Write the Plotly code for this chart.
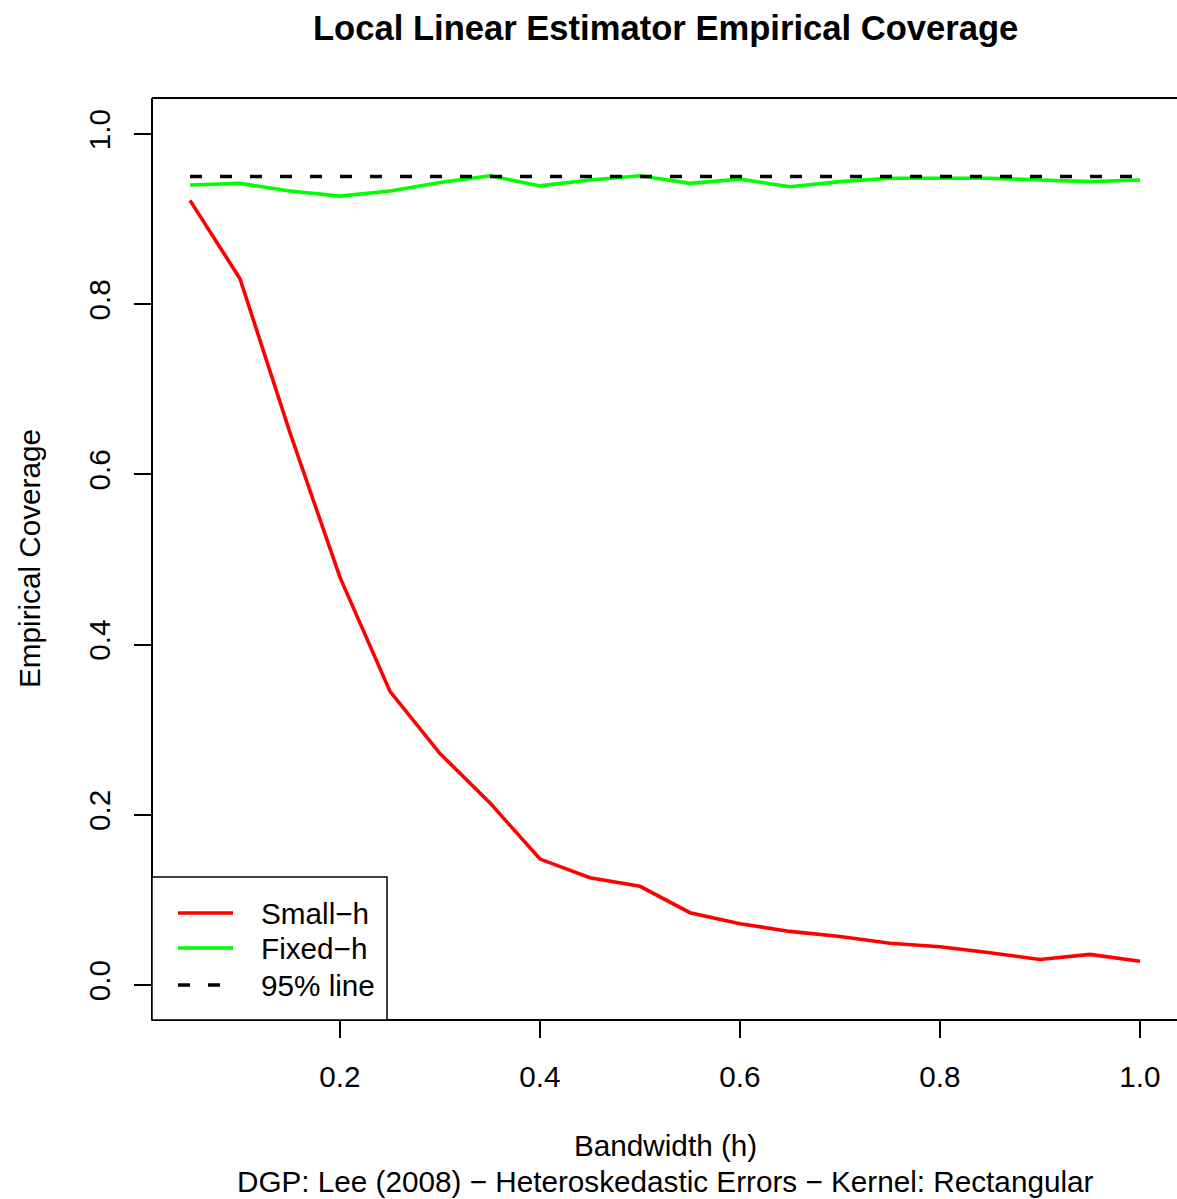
import plotly.graph_objects as go

# ---- data ----
bandwidth = [0.05, 0.10, 0.15, 0.20, 0.25, 0.30, 0.35, 0.40, 0.45, 0.50,
             0.55, 0.60, 0.65, 0.70, 0.75, 0.80, 0.85, 0.90, 0.95, 1.00]
small_h = [0.922, 0.830, 0.649, 0.479, 0.345, 0.272, 0.214, 0.148, 0.126, 0.116,
           0.085, 0.072, 0.063, 0.057, 0.049, 0.045, 0.038, 0.030, 0.036, 0.028]
fixed_h = [0.940, 0.942, 0.933, 0.927, 0.933, 0.943, 0.951, 0.939, 0.946, 0.951,
           0.942, 0.947, 0.938, 0.944, 0.948, 0.948, 0.948, 0.946, 0.944, 0.946]
nominal_x = [0.05, 1.00]
nominal_y = [0.95, 0.95]

x_ticks = [0.2, 0.4, 0.6, 0.8, 1.0]
x_tick_labels = ["0.2", "0.4", "0.6", "0.8", "1.0"]
y_ticks = [0.0, 0.2, 0.4, 0.6, 0.8, 1.0]
y_tick_labels = ["0.0", "0.2", "0.4", "0.6", "0.8", "1.0"]

series_names = ["Small\u2212h", "Fixed\u2212h", "95% line"]
title_text = "Local Linear Estimator Empirical Coverage"
x_title = "Bandwidth (h)"
sub_title = "DGP: Lee (2008) \u2212 Heteroskedastic Errors \u2212 Kernel: Rectangular"
y_title = "Empirical Coverage"

# ---- layout geometry (body margin removed by post_script) ----
W, H = 1177, 1199
PLOT_L, PLOT_T, PLOT_B = 152, 98, 1020
L, T, R = PLOT_L, PLOT_T, 0
B = H - PLOT_B
PW = W - L - R
PH = H - T - B
FONT = "Liberation Sans, Arial, Helvetica, sans-serif"
FS = 29.7
LW = 3.6
DASH = "12px,18px"


def px(xp):
    """page x pixel -> paper coordinate"""
    return (xp - PLOT_L) / PW


def py(yp):
    """page y pixel -> paper coordinate"""
    return (PLOT_B - yp) / PH


fig = go.Figure()
fig.add_trace(go.Scatter(x=bandwidth, y=small_h, mode="lines", name=series_names[0],
                         line=dict(color="#FF0000", width=LW), showlegend=False))
fig.add_trace(go.Scatter(x=bandwidth, y=fixed_h, mode="lines", name=series_names[1],
                         line=dict(color="#00FF00", width=LW), showlegend=False))
fig.add_trace(go.Scatter(x=nominal_x, y=nominal_y, mode="lines", name=series_names[2],
                         line=dict(color="black", width=LW, dash=DASH), showlegend=False))

frame = dict(color="black", width=2)
shapes = [
    # plot frame: left, top, bottom (right edge lies just beyond the page)
    dict(type="line", xref="paper", yref="paper", x0=0, x1=0, y0=0, y1=1, line=frame, layer="above"),
    dict(type="line", xref="paper", yref="paper", x0=0, x1=px(1190), y0=1, y1=1, line=frame, layer="above"),
    dict(type="line", xref="paper", yref="paper", x0=0, x1=px(1190), y0=0, y1=0, line=frame, layer="above"),
    # legend box
    dict(type="rect", xref="paper", yref="paper", x0=0, x1=px(387), y0=0, y1=py(877),
         line=dict(color="black", width=1.5), fillcolor="white", layer="above"),
]
legend_rows = [913, 948, 985]
legend_styles = [dict(color="#FF0000", width=LW), dict(color="#00FF00", width=LW),
                 dict(color="black", width=LW, dash=DASH)]
annotations = []
for name, yrow, st in zip(series_names, legend_rows, legend_styles):
    shapes.append(dict(type="line", xref="paper", yref="paper", x0=px(178), x1=px(233),
                       y0=py(yrow), y1=py(yrow), line=st, layer="above"))
    annotations.append(dict(text=name, xref="paper", yref="paper", x=px(259), y=py(yrow),
                            xanchor="left", yanchor="middle", showarrow=False,
                            font=dict(family=FONT, size=FS, color="black")))

annotations += [
    dict(text="<b>" + title_text + "</b>", xref="paper", yref="paper", x=px(665), y=py(28),
         xanchor="center", yanchor="middle", showarrow=False,
         font=dict(family=FONT, size=34.6, color="black")),
    dict(text=x_title, xref="paper", yref="paper", x=px(665), y=py(1145),
         xanchor="center", yanchor="middle", showarrow=False,
         font=dict(family=FONT, size=FS, color="black")),
    dict(text=sub_title, xref="paper", yref="paper", x=px(665), y=py(1181),
         xanchor="center", yanchor="middle", showarrow=False,
         font=dict(family=FONT, size=FS, color="black")),
    dict(text=y_title, xref="paper", yref="paper", x=px(29), y=py(559),
         xanchor="center", yanchor="middle", showarrow=False, textangle=-90,
         font=dict(family=FONT, size=FS, color="black")),
]

fig.update_layout(
    width=W, height=H, autosize=False,
    margin=dict(l=L, r=R, t=T, b=B, pad=0),
    paper_bgcolor="white", plot_bgcolor="white",
    font=dict(family=FONT, size=FS, color="black"),
    shapes=shapes, annotations=annotations,
    showlegend=False,
)
fig.update_xaxes(range=[0.012, 1.037], tickmode="array", tickvals=x_ticks,
                 ticktext=x_tick_labels, ticks="outside", ticklen=17, tickwidth=1.5,
                 tickcolor="black", showgrid=False, zeroline=False, showline=False,
                 tickfont=dict(family=FONT, size=FS, color="black"),
                 ticklabelstandoff=13)
fig.update_yaxes(range=[-0.0411, 1.0423], tickmode="array", tickvals=y_ticks,
                 ticktext=y_tick_labels, ticks="outside", ticklen=17, tickwidth=1.5,
                 tickcolor="black", showgrid=False, zeroline=False, showline=False,
                 tickangle=-90, tickfont=dict(family=FONT, size=FS, color="black"),
                 ticklabelstandoff=12)

fig.write_html("out.html", config={"displayModeBar": False},
               post_script="document.body.style.margin='0';document.body.style.overflow='hidden';")
